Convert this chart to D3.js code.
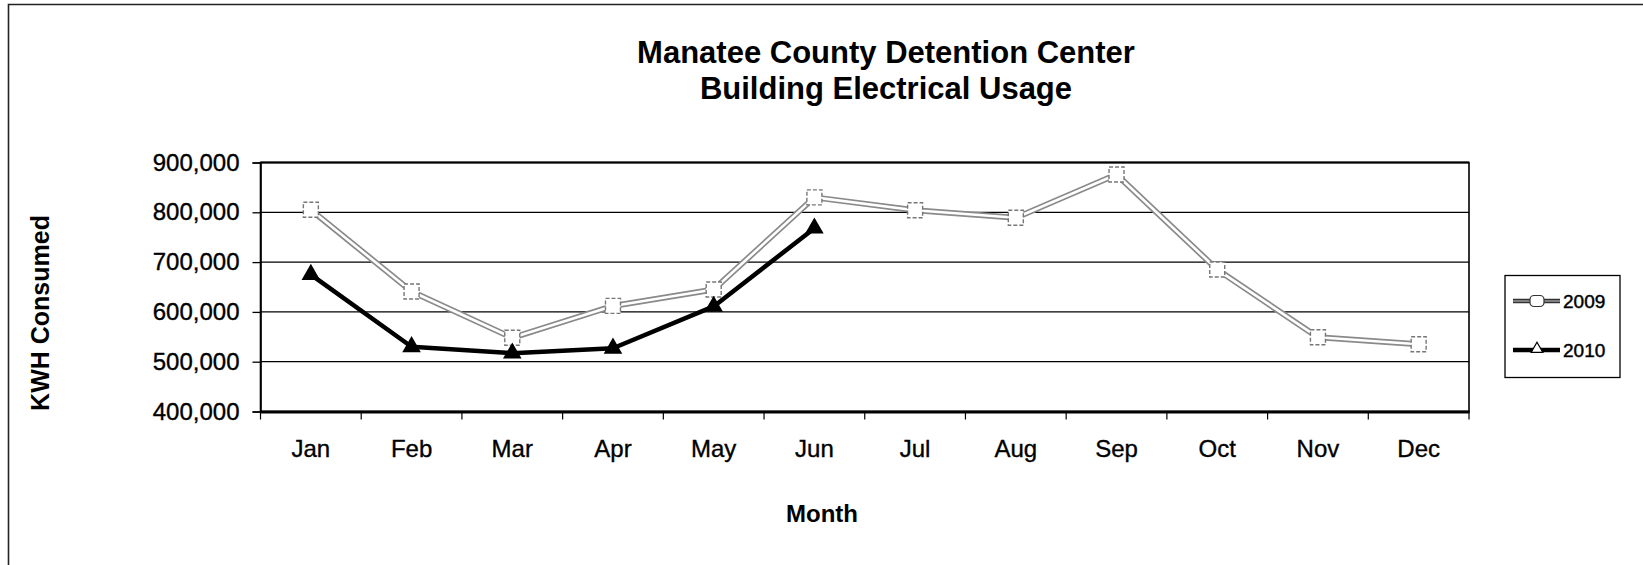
<!DOCTYPE html>
<html>
<head>
<meta charset="utf-8">
<script src="https://cdn.jsdelivr.net/npm/d3@7"></script>
<style>
  html, body { margin: 0; padding: 0; background: #fff; }
  svg { display: block; font-family: "Liberation Sans", Arial, sans-serif; }
</style>
</head>
<body>
<svg id="chart" width="1643" height="565"></svg>
<script>
// ---- data ----
const months = ["Jan","Feb","Mar","Apr","May","Jun","Jul","Aug","Sep","Oct","Nov","Dec"];
const kwh2009 = [805000, 641000, 548000, 612000, 645000, 830000, 804000, 789000, 876000, 685000, 549000, 535000];
const kwh2010 = [675000, 530000, 517000, 527000, 611000, 768000];
const yTicks = [400000, 500000, 600000, 700000, 800000, 900000];
const seriesNames = ["2009", "2010"];
const titleLines = ["Manatee County Detention Center", "Building Electrical Usage"];

// ---- layout ----
const svg = d3.select("#chart");
const plot = { left: 260.5, right: 1469, top: 162.5, bottom: 411.5 };

const x = d3.scaleBand().domain(months).range([plot.left, plot.right]).paddingInner(0).paddingOuter(0);
const y = d3.scaleLinear().domain([400000, 900000]).range([plot.bottom, plot.top]);

// outer frame (cut off at right and bottom like reference)
svg.append("path")
  .attr("d", `M8.5,570 L8.5,4.5 L1650,4.5`)
  .attr("fill", "none").attr("stroke", "#222").attr("stroke-width", 1.6);

// title
svg.append("g").selectAll("text").data(titleLines).join("text")
  .attr("x", 886).attr("y", (d, i) => 63 + i * 36)
  .attr("text-anchor", "middle")
  .attr("font-size", 31).attr("font-weight", "bold").attr("fill", "#000")
  .text(d => d);

// gridlines
svg.append("g").selectAll("line").data(yTicks.filter(t => t > 400000 && t < 900000)).join("line")
  .attr("x1", plot.left).attr("x2", plot.right)
  .attr("y1", d => y(d)).attr("y2", d => y(d))
  .attr("stroke", "#000").attr("stroke-width", 1.3);

// plot border
svg.append("rect")
  .attr("x", plot.left).attr("y", plot.top)
  .attr("width", plot.right - plot.left).attr("height", plot.bottom - plot.top)
  .attr("fill", "none").attr("stroke", "#000").attr("stroke-width", 1.6);
svg.append("line").attr("x1", plot.left).attr("x2", plot.right)
  .attr("y1", plot.top).attr("y2", plot.top).attr("stroke", "#000").attr("stroke-width", 2.2);

// y axis
const yAxis = svg.append("g").attr("transform", `translate(${plot.left},0)`)
  .call(d3.axisLeft(y).tickValues(yTicks).tickSize(8).tickPadding(13).tickFormat(d3.format(",")));
yAxis.select(".domain").attr("stroke", "#000").attr("stroke-width", 1.6);
yAxis.selectAll(".tick line").attr("stroke", "#000").attr("stroke-width", 1.3);
yAxis.selectAll(".tick text").attr("font-size", 24).attr("fill", "#000")
  .attr("stroke", "#000").attr("stroke-width", 0.35)
  .attr("font-family", "'Liberation Sans', Arial, sans-serif");

// x axis (labels centred in bands; ticks on band boundaries)
const xAxis = svg.append("g").attr("transform", `translate(0,${plot.bottom})`)
  .call(d3.axisBottom(x).tickSize(0).tickPadding(28));
xAxis.select(".domain").attr("stroke", "#000").attr("stroke-width", 3);
xAxis.selectAll(".tick text").attr("font-size", 24).attr("fill", "#000")
  .attr("stroke", "#000").attr("stroke-width", 0.35)
  .attr("font-family", "'Liberation Sans', Arial, sans-serif");
const boundaries = months.map(m => x(m)).concat([x(months[months.length - 1]) + x.bandwidth()]);
svg.append("g").selectAll("line").data(boundaries).join("line")
  .attr("x1", d => d).attr("x2", d => d)
  .attr("y1", plot.bottom).attr("y2", plot.bottom + 8)
  .attr("stroke", "#000").attr("stroke-width", 1.2);

// axis titles
svg.append("text").attr("x", 822).attr("y", 522)
  .attr("text-anchor", "middle").attr("font-size", 24).attr("font-weight", "bold")
  .text("Month");
svg.append("text").attr("transform", "translate(49,313) rotate(-90)")
  .attr("text-anchor", "middle").attr("font-size", 25).attr("font-weight", "bold")
  .text("KWH Consumed");

// ---- series ----
const cx = m => x(m) + x.bandwidth() / 2;
const line = d3.line().x((d, i) => cx(months[i])).y(d => y(d));

// 2009: hollow grey line with hollow square markers
const g09 = svg.append("g");
g09.append("path").datum(kwh2009).attr("d", line)
  .attr("fill", "none").attr("stroke", "#8a8a8a").attr("stroke-width", 6).attr("stroke-linejoin", "round");
g09.append("path").datum(kwh2009).attr("d", line)
  .attr("fill", "none").attr("stroke", "#fff").attr("stroke-width", 2.6).attr("stroke-linejoin", "round");
g09.selectAll("rect").data(kwh2009).join("rect")
  .attr("x", (d, i) => cx(months[i]) - 7.5).attr("y", d => y(d) - 7.5)
  .attr("width", 15).attr("height", 15)
  .attr("fill", "#fff").attr("stroke", "#777").attr("stroke-width", 1.4).attr("stroke-dasharray", "4,2");

// 2010: thick black line with filled triangles
const g10 = svg.append("g");
g10.append("path").datum(kwh2010).attr("d", line)
  .attr("fill", "none").attr("stroke", "#000").attr("stroke-width", 4.5).attr("stroke-linejoin", "round");
const tri = d3.symbol().type(d3.symbolTriangle).size(150);
g10.selectAll("path.m").data(kwh2010).join("path").attr("class", "m")
  .attr("transform", (d, i) => `translate(${cx(months[i])},${y(d)})`)
  .attr("d", tri).attr("fill", "#000");

// ---- legend ----
const lg = svg.append("g");
lg.append("rect").attr("x", 1505).attr("y", 275.5).attr("width", 115).attr("height", 102)
  .attr("fill", "#fff").attr("stroke", "#000").attr("stroke-width", 1.3);
const ly = [301, 350];
// 2009 sample
lg.append("line").attr("x1", 1513).attr("x2", 1560).attr("y1", ly[0]).attr("y2", ly[0])
  .attr("stroke", "#333").attr("stroke-width", 4.5);
lg.append("line").attr("x1", 1513).attr("x2", 1560).attr("y1", ly[0]).attr("y2", ly[0])
  .attr("stroke", "#ccc").attr("stroke-width", 1.2);
lg.append("rect").attr("x", 1530).attr("y", ly[0] - 5.5).attr("width", 14).attr("height", 11).attr("rx", 4)
  .attr("fill", "#fff").attr("stroke", "#333").attr("stroke-width", 1.2);
// 2010 sample
lg.append("line").attr("x1", 1513).attr("x2", 1560).attr("y1", ly[1]).attr("y2", ly[1])
  .attr("stroke", "#000").attr("stroke-width", 4.5);
lg.append("path").attr("transform", `translate(1537,${ly[1] - 1})`)
  .attr("d", d3.symbol().type(d3.symbolTriangle).size(60)).attr("fill", "#fff").attr("stroke", "#000").attr("stroke-width", 1.2);
lg.selectAll("text").data(seriesNames).join("text")
  .attr("x", 1563).attr("y", (d, i) => ly[i] + 7)
  .attr("font-size", 19).attr("fill", "#000")
  .attr("stroke", "#000").attr("stroke-width", 0.45)
  .text(d => d);
</script>
</body>
</html>
